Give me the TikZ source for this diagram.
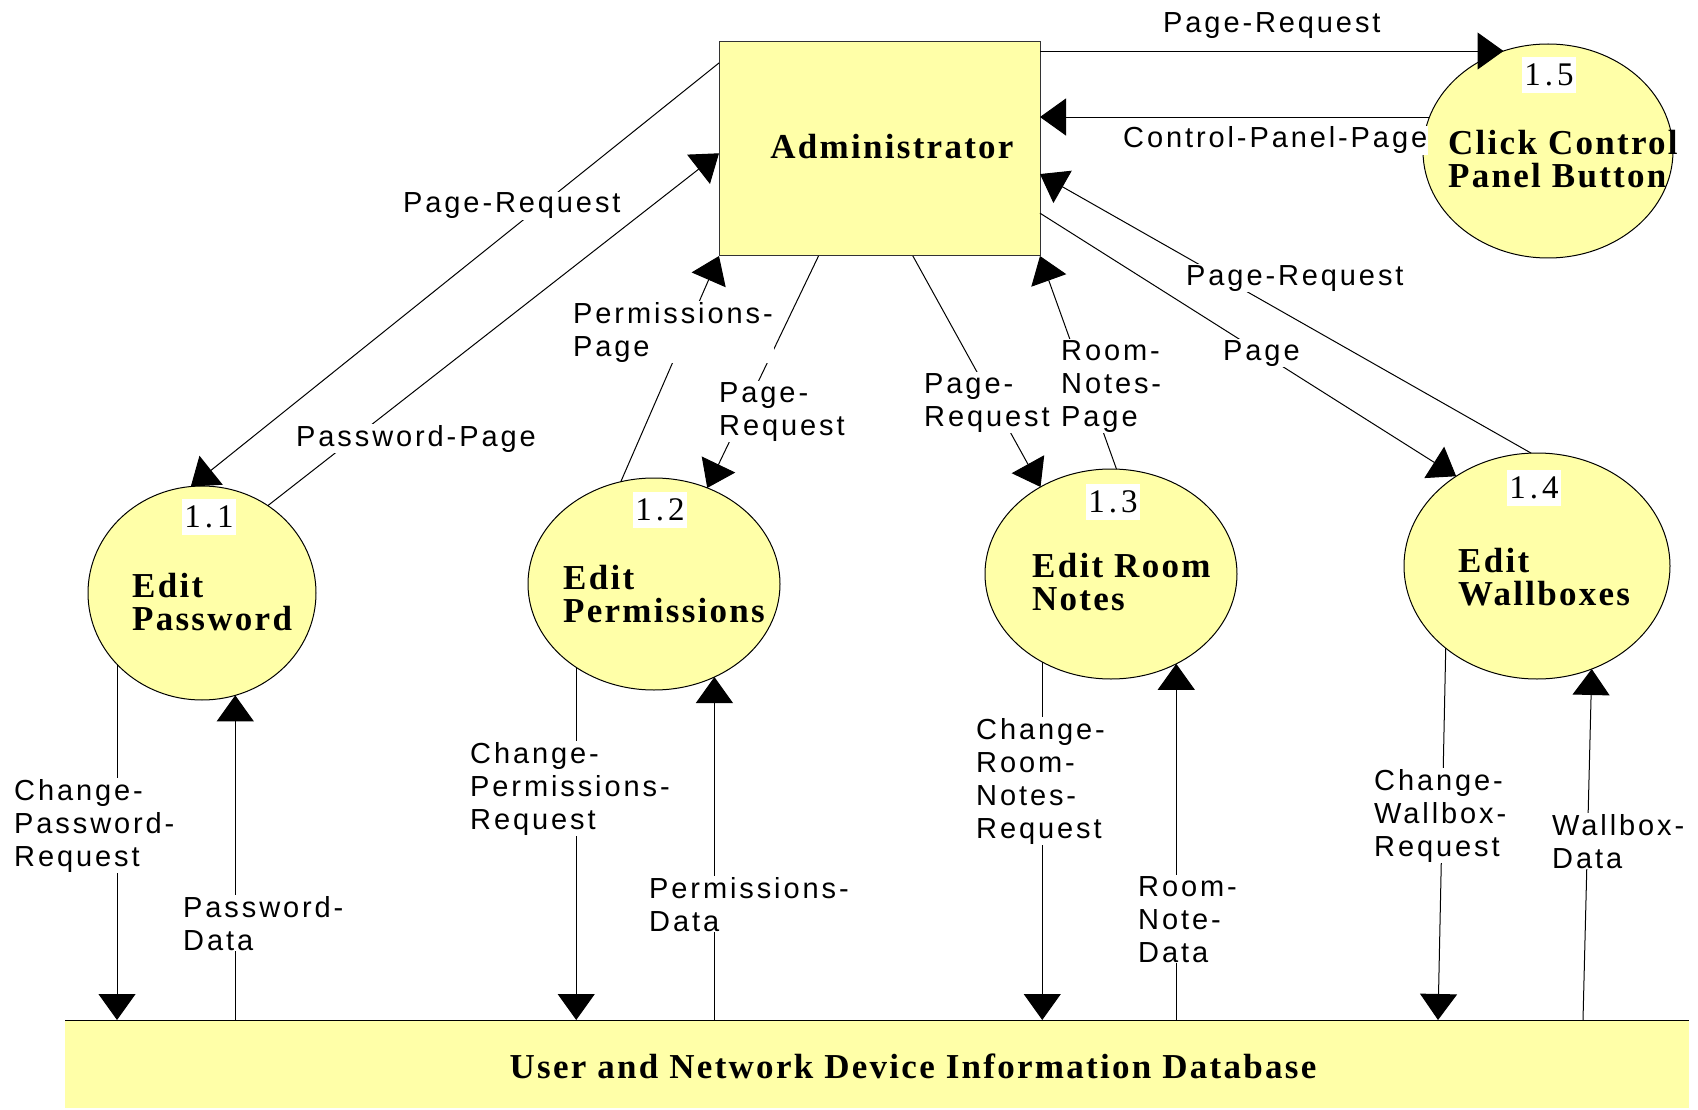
\documentclass[tikz,border=0pt]{standalone}
\usepackage{fontspec}
\usetikzlibrary{shapes.geometric,arrows.meta,calc}
\newfontfamily\lblfont[LetterSpace=10]{Liberation Sans}
\newfontfamily\ttlfont[LetterSpace=6.5]{Liberation Serif}
\newfontfamily\numfont[LetterSpace=12]{Liberation Serif}
\definecolor{dfdyel}{HTML}{FFFFA8}
\begin{document}
\begin{tikzpicture}[x=1pt,y=-1pt,
  bubble/.style={ellipse,draw=black,line width=1pt,fill=dfdyel,inner sep=0pt,outer sep=0pt},
  procbox/.style={rectangle,draw=black!80,line width=1pt,fill=dfdyel,inner sep=0pt,outer sep=0pt,minimum width=321pt,minimum height=214pt},
  store/.style={rectangle,fill=dfdyel,inner sep=0pt,outer sep=0pt,minimum width=1624pt,minimum height=88pt},
  ttl/.style={font=\ttlfont\bfseries\fontsize{35}{33}\selectfont,inner sep=0pt,align=left,anchor=base west},
  num/.style={font=\numfont\fontsize{33}{34}\selectfont,fill=white,inner sep=0pt,minimum width=54pt,minimum height=36pt},
  lbl/.style={font=\lblfont\fontsize{29}{33}\selectfont,fill=white,inner sep=1pt,align=left,anchor=base west},
  arr/.style={draw=black,line width=1pt,-{Triangle[length=26pt,width=37pt]}}
]
\useasboundingbox (0,0) rectangle (1698,1110);
% shapes
\node[procbox] (adm) at (879.5,149) {};
\node[bubble,minimum width=228pt,minimum height=214pt] (c11) at (202,593) {};
\node[bubble,minimum width=252pt,minimum height=212pt] (c12) at (654,584) {};
\node[bubble,minimum width=252pt,minimum height=210pt] (c13) at (1111,574) {};
\node[bubble,minimum width=266pt,minimum height=226pt] (c14) at (1537,566) {};
\node[bubble,minimum width=250pt,minimum height=214pt] (c15) at (1548,151) {};
\node[store] (db) at (877,1064) {};
\draw[line width=1pt] (db.north west) -- (db.north east);
\coordinate (dbw1) at (1438,1020);
\coordinate (dbw2) at (1583,1020);
% titles (anchor = baseline of last line)
\node[ttl,anchor=base] (tadm) at (892,159) {Administrator};
\node[ttl] (t11) at (132,630) {Edit\\Password};
\node[ttl] (t12) at (563,622) {Edit\\Permissions};
\node[ttl] (t13) at (1032,610) {Edit Room\\Notes};
\node[ttl] (t14) at (1458,605) {Edit\\Wallboxes};
\node[ttl] (t15) at (1448,188) {Click Control\\Panel Button};
\node[ttl,anchor=base] (tdb) at (913,1078) {User and Network Device Information Database};
% connectors
\draw[arr] (adm.east |- c15.114) -- (c15.114);
\draw[arr] (c15.164) -- (adm.east |- c15.164);
\draw[arr] ($(adm.north west)!0.098!(adm.south west)$) -- (c11.96);
\draw[arr] (c11.53) -- ($(adm.north west)!0.52!(adm.south west)$);
\draw[arr] (c12.108) -- (adm.south west);
\draw[arr] ($(adm.south west)!0.31!(adm.south east)$) -- (c12.61);
\draw[arr] ($(adm.south west)!0.604!(adm.south east)$) -- (c13.129);
\draw[arr] (c13.87) -- (adm.south east);
\draw[arr] ($(adm.north east)!0.80!(adm.south east)$) -- (c14.132);
\draw[arr] (c14.93) -- ($(adm.north east)!0.617!(adm.south east)$);
\draw[arr] (c11.220) -- (c11.220 |- db.north);
\draw[arr] (c11.288 |- db.north) -- (c11.288);
\draw[arr] (c12.227) -- (c12.227 |- db.north);
\draw[arr] (c12.303 |- db.north) -- (c12.303);
\draw[arr] (c13.232) -- (c13.232 |- db.north);
\draw[arr] (c13.306 |- db.north) -- (c13.306);
\draw[arr] (c14.222) -- (dbw1);
\draw[arr] (dbw2) -- (c14.298);
% labels (anchor = baseline of last line)
\node[lbl] (l1) at (1162,33) {Page-Request};
\node[lbl] (l2) at (1122,148) {Control-Panel-Page};
\node[lbl] (l3) at (402,213) {Page-Request};
\node[lbl] (l4) at (295,446) {Password-Page};
\node[lbl] (l5) at (572,356) {Permissions-\\Page};
\node[lbl] (l6) at (718,435) {Page-\\Request};
\node[lbl] (l7) at (923,426) {Page-\\Request};
\node[lbl] (l8) at (1060,426) {Room-\\Notes-\\Page};
\node[lbl] (l9) at (1222,360) {Page};
\node[lbl] (l10) at (1185,285) {Page-Request};
\node[lbl] (l11) at (13,866) {Change-\\Password-\\Request};
\node[lbl] (l12) at (182,950) {Password-\\Data};
\node[lbl] (l13) at (469,829) {Change-\\Permissions-\\Request};
\node[lbl] (l14) at (648,931) {Permissions-\\Data};
\node[lbl] (l15) at (975,838) {Change-\\Room-\\Notes-\\Request};
\node[lbl] (l16) at (1137,962) {Room-\\Note-\\Data};
\node[lbl] (l17) at (1373,856) {Change-\\Wallbox-\\Request};
\node[lbl] (l18) at (1551,868) {Wallbox-\\Data};
% numbers
\node[num] (n11) at (209,517) {1.1};
\node[num] (n12) at (660,510) {1.2};
\node[num] (n13) at (1113,502) {1.3};
\node[num] (n14) at (1534,488) {1.4};
\node[num] (n15) at (1549,75) {1.5};
\end{tikzpicture}
\end{document}
